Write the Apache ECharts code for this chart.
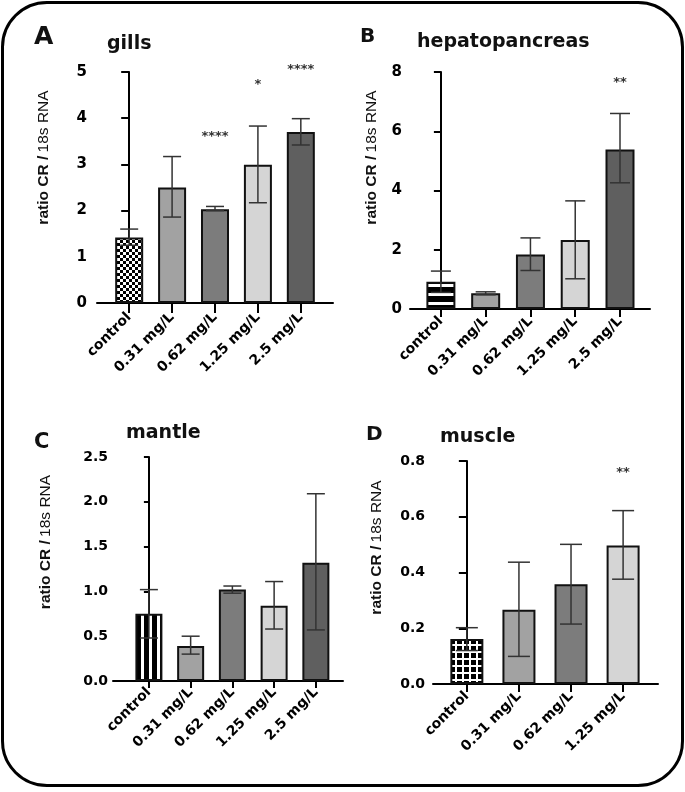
<!DOCTYPE html>
<html>
<head>
<meta charset="utf-8">
<script src="https://cdn.jsdelivr.net/npm/echarts@6/dist/echarts.min.js"></script>
<style>
  html, body { margin: 0; padding: 0; background: #fff; }
  #chart { position: absolute; left: 0; top: 0; width: 685px; height: 792px; }
  #frame { position: absolute; left: 1px; top: 1px; width: 683px; height: 786px; box-sizing: border-box;
           border: 3px solid #000; border-radius: 46px; pointer-events: none; }
</style>
</head>
<body>
<div id="chart"></div>
<div id="frame"></div>
<script>
// ---------------- data ----------------
const categories = ['control', '0.31 mg/L', '0.62 mg/L', '1.25 mg/L', '2.5 mg/L'];
const categoriesMuscle = ['control', '0.31 mg/L', '0.62 mg/L', '1.25 mg/L'];

const gillsMean  = [1.42, 2.50, 2.03, 2.99, 3.70];
const gillsLow   = [1.25, 1.86, 2.00, 2.17, 3.42];
const gillsHigh  = [1.60, 3.17, 2.09, 3.83, 3.99];
const gillsStars = ['', '', '****', '*', '****'];
const gillsStarY = [null, null, 3.61, 4.72, 5.06];

const hepatoMean  = [0.92, 0.53, 1.84, 2.33, 5.38];
const hepatoLow   = [0.56, 0.48, 1.30, 1.02, 4.26];
const hepatoHigh  = [1.28, 0.58, 2.40, 3.65, 6.60];
const hepatoStars = ['', '', '', '', '**'];
const hepatoStarY = [null, null, null, null, 7.63];

const mantleMean = [0.75, 0.39, 1.02, 0.84, 1.32];
const mantleLow  = [0.48, 0.30, 0.98, 0.58, 0.57];
const mantleHigh = [1.02, 0.50, 1.06, 1.11, 2.09];

const muscleMean  = [0.161, 0.266, 0.358, 0.497];
const muscleLow   = [0.120, 0.099, 0.215, 0.376];
const muscleHigh  = [0.202, 0.437, 0.501, 0.622];
const muscleStars = ['', '', '', '**'];
const muscleStarY = [null, null, null, 0.76];

const gillsTicks  = [0, 1, 2, 3, 4, 5];
const hepatoTicks = [0, 2, 4, 6, 8];
const mantleTicks = [0, 0.5, 1.0, 1.5, 2.0, 2.5];
const muscleTicks = [0, 0.2, 0.4, 0.6, 0.8];

// ---------------- patterns ----------------
function makePattern(size, draw) {
  const c = document.createElement('canvas');
  c.width = size; c.height = size;
  const g = c.getContext('2d');
  draw(g, size);
  return { image: c, repeat: 'repeat' };
}
const checker = makePattern(6, (g) => {
  g.fillStyle = '#fff'; g.fillRect(0, 0, 6, 6);
  g.fillStyle = '#000'; g.fillRect(0, 0, 3, 3); g.fillRect(3, 3, 3, 3);
});
const hStripes = makePattern(9, (g) => {
  g.fillStyle = '#000'; g.fillRect(0, 0, 9, 9);
  g.fillStyle = '#fff'; g.fillRect(0, 5, 9, 3);
});
const vStripes = makePattern(8, (g) => {
  g.fillStyle = '#000'; g.fillRect(0, 0, 8, 8);
  g.fillStyle = '#fff'; g.fillRect(5, 0, 3, 8);
});
const grid = makePattern(7, (g) => {
  g.fillStyle = '#000'; g.fillRect(0, 0, 7, 7);
  g.fillStyle = '#fff'; g.fillRect(0, 0, 7, 2); g.fillRect(0, 0, 2, 7);
});

const greys = ['#a2a2a2', '#7c7c7c', '#d5d5d5', '#5f5f5f'];

// ---------------- helpers ----------------
const FONT = "'DejaVu Sans', sans-serif";

function barData(means, controlFill) {
  return means.map((v, i) => ({
    value: [i, v],
    itemStyle: { color: i === 0 ? controlFill : greys[i - 1] }
  }));
}
function errData(low, high) {
  return low.map((l, i) => [i, l, high[i]]);
}
function errRender(half) {
  return function (params, api) {
    const x = api.value(0);
    const lo = api.coord([x, api.value(1)]);
    const hi = api.coord([x, api.value(2)]);
    const st = { stroke: '#333', lineWidth: 1.5 };
    return {
      type: 'group', children: [
        { type: 'line', shape: { x1: lo[0], y1: lo[1], x2: hi[0], y2: hi[1] }, style: st },
        { type: 'line', shape: { x1: hi[0] - half, y1: hi[1], x2: hi[0] + half, y2: hi[1] }, style: st },
        { type: 'line', shape: { x1: lo[0] - half, y1: lo[1], x2: lo[0] + half, y2: lo[1] }, style: st }
      ]
    };
  };
}
function starData(stars, ys) {
  const out = [];
  stars.forEach((s, i) => { if (s) out.push([i, ys[i], s]); });
  return out;
}
function starRender(params, api) {
  const p = api.coord([api.value(0), api.value(1)]);
  return {
    type: 'text', x: p[0], y: p[1],
    style: { text: api.value(2), fill: '#333', font: "bold 13px 'DejaVu Sans'", align: 'center', verticalAlign: 'middle' }
  };
}

function xAxisFor(gi, cats, min, max, tickLen, labelMargin) {
  const idx = cats.map((c, i) => i);
  return {
    type: 'value', gridIndex: gi, min: min, max: max,
    splitLine: { show: false },
    axisLine: { show: true, onZero: false, lineStyle: { color: '#000', width: 2 } },
    axisTick: { show: true, customValues: idx, length: tickLen, lineStyle: { color: '#000', width: 2 } },
    axisLabel: {
      customValues: idx, formatter: (v) => cats[Math.round(v)], rotate: 45, margin: labelMargin,
      color: '#000', fontFamily: FONT, fontWeight: 'bold', fontSize: 14
    }
  };
}
function yAxisFor(gi, ticks, decimals, tickLen, labelMargin, nameGap, shift, fs) {
  return {
    type: 'value', gridIndex: gi, min: ticks[0], max: ticks[ticks.length - 1],
    interval: ticks[1] - ticks[0],
    splitLine: { show: false },
    axisLine: { show: true, lineStyle: { color: '#000', width: 2 } },
    axisTick: { show: true, length: tickLen, lineStyle: { color: '#000', width: 2 } },
    axisLabel: {
      margin: labelMargin, color: '#000', fontFamily: FONT, fontWeight: 'bold', fontSize: fs,
      formatter: (v) => Number(v).toFixed(decimals)
    },
    name: '{b|ratio CR /} {n|18s RNA}',
    nameLocation: 'middle', nameGap: nameGap, nameRotate: 90,
    nameTextStyle: {
      padding: [0, 0, 0, shift * 2],
      rich: {
        b: { fontFamily: "'Liberation Sans', Arial", fontWeight: 'bold', fontSize: 15.5, color: '#111' },
        n: { fontFamily: "'Liberation Sans', Arial", fontWeight: 'normal', fontSize: 15.5, color: '#111' }
      }
    }
  };
}

function titleFor(text, left, top, size) {
  return { text: text, left: left, top: top, padding: 0,
           textStyle: { fontFamily: FONT, fontWeight: 'bold', fontSize: size, color: '#111' } };
}

// ---------------- option ----------------
const panels = [
  { mean: gillsMean, low: gillsLow, high: gillsHigh, stars: gillsStars, starY: gillsStarY, fill: checker, bw: 28, half: 9 },
  { mean: hepatoMean, low: hepatoLow, high: hepatoHigh, stars: hepatoStars, starY: hepatoStarY, fill: hStripes, bw: 29, half: 10 },
  { mean: mantleMean, low: mantleLow, high: mantleHigh, stars: null, starY: null, fill: vStripes, bw: 27, half: 9 },
  { mean: muscleMean, low: muscleLow, high: muscleHigh, stars: muscleStars, starY: muscleStarY, fill: grid, bw: 33, half: 11 }
];

const series = [];
panels.forEach((p, gi) => {
  series.push({
    type: 'bar', xAxisIndex: gi, yAxisIndex: gi, barWidth: p.bw,
    data: barData(p.mean, p.fill),
    itemStyle: { borderColor: '#111', borderWidth: 2 },
    z: 2
  });
  series.push({
    type: 'custom', xAxisIndex: gi, yAxisIndex: gi, renderItem: errRender(p.half),
    data: errData(p.low, p.high), z: 3, clip: false
  });
  if (p.stars) {
    series.push({
      type: 'custom', xAxisIndex: gi, yAxisIndex: gi, renderItem: starRender,
      data: starData(p.stars, p.starY), z: 4, clip: false
    });
  }
});

const option = {
  backgroundColor: '#fff',
  animation: false,
  title: [
    titleFor('A', 34, 25, 25),
    titleFor('gills', 107, 35, 19),
    titleFor('B', 360, 27, 20),
    titleFor('hepatopancreas', 417, 33, 19),
    titleFor('C', 34, 432, 21),
    titleFor('mantle', 126, 424, 19),
    titleFor('D', 366, 425, 20),
    titleFor('muscle', 440, 428, 19)
  ],
  grid: [
    { left: 97, top: 72, width: 236, height: 231 },
    { left: 410, top: 72, width: 240, height: 237 },
    { left: 113, top: 457, width: 230, height: 224 },
    { left: 433, top: 461, width: 225, height: 223 }
  ],
  xAxis: [
    xAxisFor(0, categories, -0.75, 4.75, 10, 12),
    xAxisFor(1, categories, -0.69, 4.67, 8, 10),
    xAxisFor(2, categories, -0.86, 4.65, 7, 9),
    xAxisFor(3, categoriesMuscle, -0.65, 3.67, 8, 10)
  ],
  yAxis: [
    yAxisFor(0, gillsTicks, 0, 8, 10, 45, 30, 15),
    yAxisFor(1, hepatoTicks, 0, 7, 8, 30, 33, 15),
    yAxisFor(2, mantleTicks, 1, 5, 5, 59, 27, 14),
    yAxisFor(3, muscleTicks, 1, 8, 8, 48, 25, 14)
  ],
  series: series
};

const chart = echarts.init(document.getElementById('chart'), null, { renderer: 'canvas' });
chart.setOption(option);
</script>
</body>
</html>
